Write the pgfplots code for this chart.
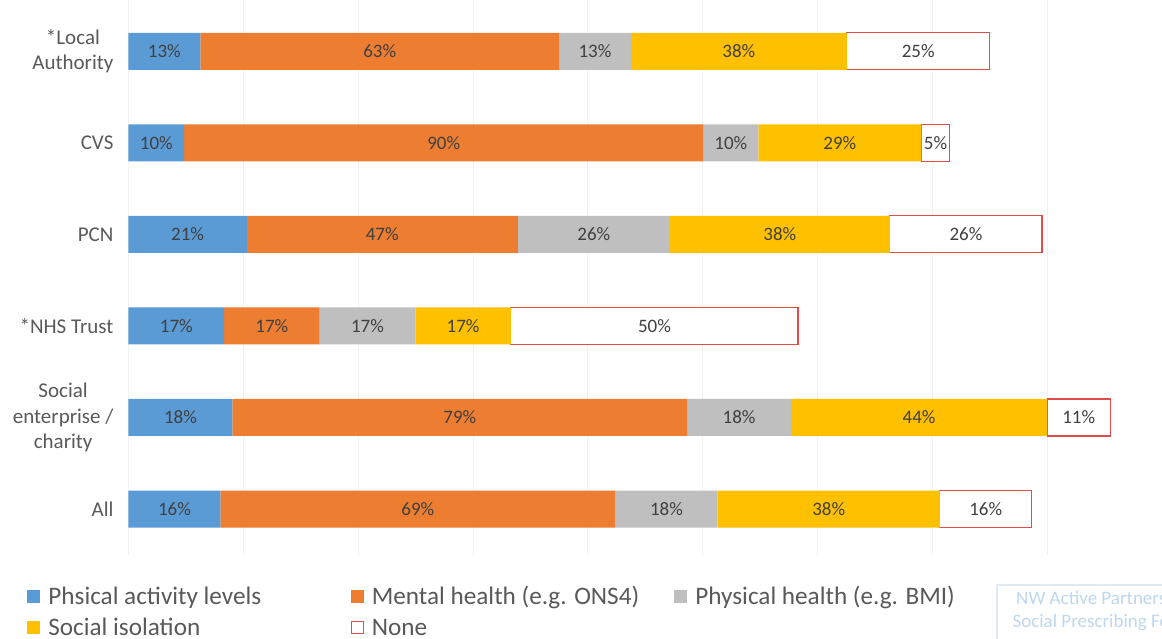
\documentclass[border=0pt]{standalone}
\usepackage{fontspec}
\setmainfont{Carlito}
\usepackage{pgfplots}
\pgfplotsset{compat=1.18}
\definecolor{cblue}{HTML}{5B9BD5}
\definecolor{corange}{HTML}{ED7D31}
\definecolor{cgray}{HTML}{BFBFBF}
\definecolor{cyellow}{HTML}{FFC000}
\definecolor{cnone}{HTML}{E04B4B}
\definecolor{labelgray}{HTML}{595959}
\definecolor{valtext}{HTML}{404040}
\definecolor{wmblue}{HTML}{BDD7EE}
\definecolor{wmline}{HTML}{DDEBF7}

\begin{document}
\begin{tikzpicture}
\begin{axis}[
  scale only axis, width=516.75pt, height=277.4pt,
  xbar stacked, bar width=0.404,
  xmin=0, xmax=180, ymin=-0.5, ymax=5.56,
  axis line style={draw=none},
  xtick={20,40,...,160}, xticklabels={},
  xmajorgrids, major grid style={color=black!5, line width=0.5pt},
  extra x ticks={0}, extra x tick labels={},
  extra x tick style={grid style={color=black!15, line width=0.6pt}},
  major tick length=0pt,
  ytick={0,1,2,3,4,5},
  yticklabels={All, {Social\\enterprise /\\charity}, *NHS Trust, PCN, CVS, {*Local\\Authority}},
  yticklabel style={align=center, font=\fontsize{10.5}{12.75}\selectfont, text=labelgray, xshift=-4pt},
  point meta=explicit symbolic,
  nodes near coords={\pgfplotspointmeta\%},
  every node near coord/.append style={font=\fontsize{9.5}{11}\selectfont, text=valtext},
  legend columns=3,
  legend style={at={(0,0)}, anchor=north west, xshift=-50.75pt, yshift=-15.4pt,
    draw=none, fill=none, inner sep=0pt, text=labelgray,
    font=\fontsize{12.6}{15}\selectfont,
    /tikz/every odd column/.append style={column sep=4pt},
    row sep=5.8pt,
    nodes={inner sep=0pt, text height=9pt, text depth=1pt}},
]
% Phsical activity levels
\addplot[fill=cblue, draw=none,
  legend image code/.code={\fill[cblue] (0pt,-3.25pt) rectangle (6.5pt,3.25pt);}]
  coordinates {(16.0,0) [16] (18.1,1) [18] (16.65,2) [17] (20.6,3) [21] (9.7,4) [10] (12.5,5) [13]};
\addlegendentry{\makebox[151.25pt][l]{Phsical activity levels}}
% Mental health
\addplot[fill=corange, draw=none,
  legend image code/.code={\fill[corange] (0pt,-3.25pt) rectangle (6.5pt,3.25pt);}]
  coordinates {(68.8,0) [69] (79.2,1) [79] (16.65,2) [17] (47.2,3) [47] (90.4,4) [90] (62.5,5) [63]};
\addlegendentry{\makebox[151.25pt][l]{Mental health (e.g. ONS4)}}
% Physical health
\addplot[fill=cgray, draw=none,
  legend image code/.code={\fill[cgray] (0pt,-3.25pt) rectangle (6.5pt,3.25pt);}]
  coordinates {(17.8,0) [18] (18.1,1) [18] (16.65,2) [17] (26.5,3) [26] (9.6,4) [10] (12.5,5) [13]};
\addlegendentry{Physical health (e.g. BMI)}
% Social isolation
\addplot[fill=cyellow, draw=none,
  legend image code/.code={\fill[cyellow] (0pt,-3.25pt) rectangle (6.5pt,3.25pt);}]
  coordinates {(38.7,0) [38] (44.6,1) [44] (16.65,2) [17] (38.3,3) [38] (28.4,4) [29] (37.6,5) [38]};
\addlegendentry{\makebox[151.25pt][l]{Social isolation}}
% None
\addplot[fill=white, draw=cnone, line width=0.6pt,
  legend image code/.code={\draw[cnone, fill=white, line width=0.6pt] (0.3pt,-2.95pt) rectangle (6.2pt,2.95pt);}]
  coordinates {(16.0,0) [16] (11.0,1) [11] (50,2) [50] (26.5,3) [26] (4.9,4) [5] (24.9,5) [25]};
\addlegendentry{\makebox[151.25pt][l]{None}}
\end{axis}
% watermark box, cut by the page edge as in the reference
\draw[wmline, line width=0.6pt] (434.25pt,-46pt) rectangle (544.25pt,-15.1pt);
\node[text=wmblue, align=center, font=\fontsize{9.5}{11.5}\selectfont] at (489.25pt,-28.3pt)
  {NW Active Partnerships\\Social Prescribing Forum};
\pgfresetboundingbox
\path[use as bounding box] (-64.25pt,-41.6pt) rectangle (516.75pt,277.4pt);
\end{tikzpicture}
\end{document}
